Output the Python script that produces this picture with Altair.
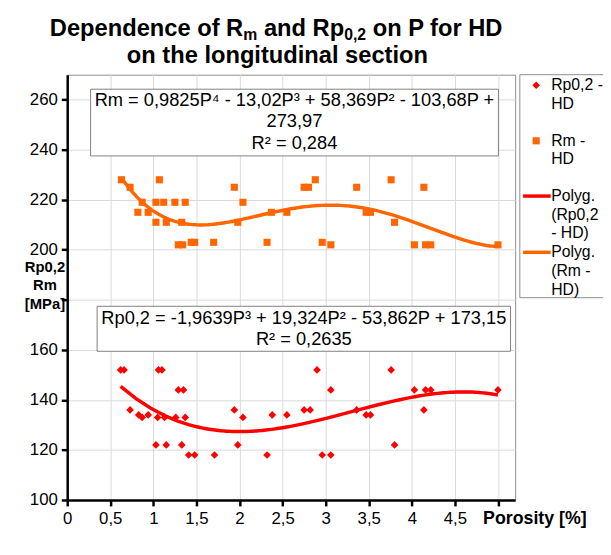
import altair as alt
import pandas as pd

# ---------------- data ----------------
rm_p = [0.63, 0.73, 0.82, 0.87, 0.94, 1.03, 1.03, 1.07, 1.12, 1.15, 1.25, 1.29, 1.33, 1.34, 1.37,
        1.44, 1.48, 1.70, 1.94, 1.98, 2.04, 2.32, 2.37, 2.55, 2.75, 2.80, 2.88, 2.96, 3.06, 3.36,
        3.47, 3.52, 3.76, 3.80, 4.03, 4.14, 4.16, 4.22, 5.0]
rm_v = [228, 225, 215, 219, 215, 219, 211, 228, 219, 211, 219, 202, 211, 202, 219,
        203, 203, 203, 225, 211, 219, 203, 215, 215, 225, 225, 228, 203, 202, 225,
        215, 215, 228, 211, 202, 225, 202, 202, 202]

rp_p = [0.62, 0.66, 0.73, 0.83, 0.87, 0.94, 1.03, 1.05, 1.06, 1.10, 1.13, 1.15, 1.26, 1.29, 1.33,
        1.35, 1.37, 1.41, 1.48, 1.71, 1.94, 1.98, 2.04, 2.32, 2.38, 2.55, 2.75, 2.82, 2.90, 2.96,
        3.06, 3.06, 3.36, 3.47, 3.52, 3.76, 3.80, 4.03, 4.14, 4.16, 4.22, 5.0]
rp_v = [152, 152, 136, 134, 133, 134, 122, 133, 152, 152, 133, 122, 133, 144, 122,
        144, 133, 118, 118, 118, 136, 122, 133, 118, 134, 134, 136, 136, 152, 118,
        144, 118, 136, 134, 134, 152, 122, 144, 136, 144, 144, 144]

x_ticks = [0, 0.5, 1, 1.5, 2, 2.5, 3, 3.5, 4, 4.5, 5]
y_ticks = [100, 120, 140, 160, 180, 200, 220, 240, 260]

rm_eq = ["Rm = 0,9825P\u2074 - 13,02P\u00b3 + 58,369P\u00b2 - 103,68P +", "273,97", "R\u00b2 = 0,284"]
rp_eq = ["Rp0,2 = -1,9639P\u00b3 + 19,324P\u00b2 - 53,862P + 173,15", "R\u00b2 = 0,2635"]

legend_labels = [["Rp0,2 -", "HD"], ["Rm -", "HD"], ["Polyg.", "(Rp0,2", "- HD)"], ["Polyg.", "(Rm -", "HD)"]]

# (text, kind, leading space before it)
title_line1 = [("Dependence of R", "main", False), ("m", "sub", False), ("and Rp", "main", True),
               ("0,2", "sub", False), ("on P for HD", "main", True)]
title_line2 = "on the longitudinal section"

# ---------------- styling ----------------
FONT = "Liberation Sans"
RED = "#FF0000"
ORANGE = "#FF6600"
W, H = 454, 431

rm_df = pd.DataFrame({"P": rm_p, "Rm": rm_v})
rp_df = pd.DataFrame({"P": rp_p, "Rp": rp_v})
one = pd.DataFrame({"a": [0]})

xscale = alt.Scale(domain=[0, 5.2], nice=False, zero=False)
yscale = alt.Scale(domain=[100, 270], nice=False, zero=False)

x_axis = alt.Axis(
    values=x_ticks,
    labelExpr="datum.value >= 5 ? '' : replace(toString(datum.value), '.', ',')",
    title="Porosity [%]", titleX=421, titleY=19, titleAlign="left", titleBaseline="middle",
    titleFontWeight="bold", titleFontSize=18, titleFont=FONT, titleColor="black",
    labelFontSize=17, labelFont=FONT, labelColor="black", labelPadding=5,
    labelFlush=False, labelOverlap=False,
    tickSize=6, tickWidth=2.5, tickColor="black",
    domainWidth=2.5, domainColor="black",
    grid=True, gridColor="#d9d9d9", gridWidth=1,
)
y_axis = alt.Axis(
    values=y_ticks,
    labelExpr="datum.value == 180 ? '' : toString(datum.value)",
    title=["Rp0,2", "Rm", "[MPa]"], titleAngle=0, titleX=-23, titleY=194,
    titleAlign="center", titleBaseline="middle", titleLineHeight=19,
    titleFontWeight="bold", titleFontSize=15, titleFont=FONT, titleColor="black",
    labelFontSize=17, labelFont=FONT, labelColor="black", labelPadding=4,
    labelFlush=False, labelOverlap=False,
    tickSize=6, tickWidth=2.5, tickColor="black",
    domainWidth=2.5, domainColor="black",
    grid=True, gridColor="#d9d9d9", gridWidth=1,
)

def xy(yfield):
    return dict(x=alt.X("P:Q", scale=xscale, axis=x_axis),
                y=alt.Y(yfield, scale=yscale, axis=y_axis))

rm_pts = alt.Chart(rm_df).mark_point(shape="square", filled=True, size=52, color=ORANGE, opacity=1).encode(**xy("Rm:Q"))
rp_pts = alt.Chart(rp_df).mark_point(shape="diamond", filled=True, size=60, color=RED, opacity=1).encode(**xy("Rp:Q"))
rp_fit = alt.Chart(rp_df).transform_regression("P", "Rp", method="poly", order=3).mark_line(
    color=RED, strokeWidth=3.5).encode(**xy("Rp:Q"))
rm_fit = alt.Chart(rm_df).transform_regression("P", "Rm", method="poly", order=4).mark_line(
    color=ORANGE, strokeWidth=3.5).encode(**xy("Rm:Q"))

layers = [rm_pts, rp_pts, rp_fit, rm_fit]

def box(x1, x2, y1, y2, stroke="#7f7f7f", fill="white"):
    return alt.Chart(one).mark_rect(fill=fill, stroke=stroke, strokeWidth=1).encode(
        x=alt.value(x1), x2=alt.value(x2), y=alt.value(y1), y2=alt.value(y2))

def text(lines, x, y, size, align="center", baseline="middle", weight="normal", lh=None, color="black"):
    kw = dict(text=lines, align=align, baseline=baseline, fontSize=size, font=FONT,
              fontWeight=weight, color=color)
    if lh is not None:
        kw["lineHeight"] = lh
    return alt.Chart(one).mark_text(**kw).encode(x=alt.value(x), y=alt.value(y))

# equation boxes (first line centre given)
layers += [box(23.7, 437, 14.7, 82.3), text(rm_eq, 230.3, 25.5, 18.5, lh=22)]
layers += [box(30.3, 449.3, 234.7, 280.3), text(rp_eq, 239.8, 247, 18.5, lh=21)]

# legend
layers.append(box(458.7, 560, 0, 226, stroke="#8c8c8c"))
layers.append(alt.Chart(one).mark_point(shape="diamond", filled=True, size=60, color=RED, opacity=1).encode(
    x=alt.value(475.3), y=alt.value(10.7)))
layers.append(alt.Chart(one).mark_point(shape="square", filled=True, size=52, color=ORANGE, opacity=1).encode(
    x=alt.value(475.3), y=alt.value(67)))
layers.append(alt.Chart(one).mark_rule(color=RED, strokeWidth=3.5).encode(
    x=alt.value(462), x2=alt.value(490), y=alt.value(123)))
layers.append(alt.Chart(one).mark_rule(color=ORANGE, strokeWidth=3.5).encode(
    x=alt.value(462), x2=alt.value(490), y=alt.value(180)))
for lab, yc in zip(legend_labels, [10.7, 67, 123, 180]):
    layers.append(text(lab, 490.5, yc, 16, align="left", lh=19))

# title with subscripts
BOLD_W = {'D': 722, 'e': 556, 'p': 611, 'n': 611, 'd': 611, 'c': 556, ' ': 278, 'o': 611, 'f': 333,
          'R': 722, 'm': 889, 'a': 556, '0': 556, ',': 278, '2': 556, 'P': 667, 'r': 389, 'H': 722}
sizes = {"main": 24, "sub": 16}
shift = {"main": 0, "sub": 4}
segs = []
for s, k, lead in title_line1:
    gap = BOLD_W[' '] / 1000 * sizes["main"] if lead else 0
    segs.append((s, k, gap, sum(BOLD_W[c] for c in s) / 1000 * sizes[k]))
total = sum(g + w for _, _, g, w in segs)
xpos = 212 - total / 2
for s, k, g, wdt in segs:
    xpos += g
    layers.append(text(s, xpos, -39 + shift[k], sizes[k], align="left", baseline="alphabetic", weight="bold"))
    xpos += wdt
layers.append(text(title_line2, 213, -12, 24, baseline="alphabetic", weight="bold"))

chart = alt.layer(*layers).properties(
    width=W, height=H,
    padding={"left": 60, "top": 64, "right": 89, "bottom": 40},
    autosize=alt.AutoSizeParams(type="none"),
).configure_view(stroke="#8c8c8c", strokeWidth=1)

chart.save("out.html", embed_options={"renderer": "svg", "actions": False})
